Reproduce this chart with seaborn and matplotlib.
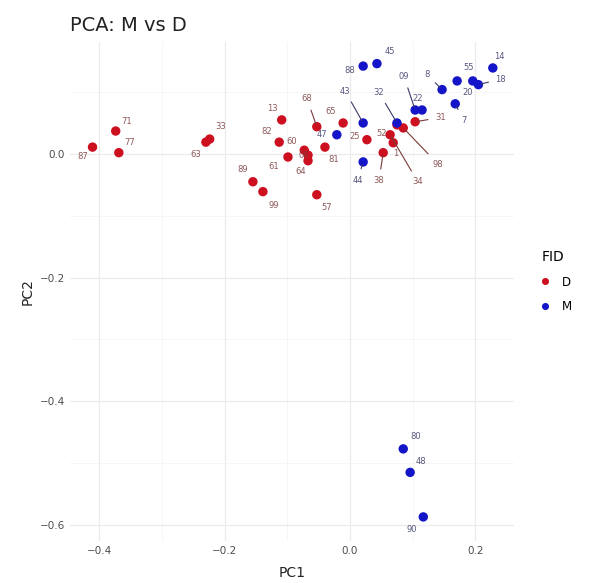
import matplotlib
matplotlib.use("Agg")
import matplotlib.pyplot as plt
from matplotlib.ticker import MultipleLocator
import seaborn as sns
import pandas as pd

# ---------------- data ----------------
d_labels = ["87", "71", "77", "63", "33", "13", "82", "61", "60", "06", "64", "68",
            "81", "65", "57", "89", "99", "25", "38", "1", "52", "98", "31", "34"]
d_pc1 = [-0.411, -0.374, -0.369, -0.230, -0.224, -0.109, -0.113, -0.099, -0.073, -0.067,
         -0.067, -0.053, -0.040, -0.011, -0.053, -0.155, -0.139, 0.027, 0.053, 0.069,
         0.075, 0.085, 0.104, 0.064]
d_pc2 = [0.011, 0.037, 0.002, 0.019, 0.024, 0.055, 0.019, -0.005, 0.006, -0.002,
         -0.011, 0.044, 0.011, 0.050, -0.066, -0.045, -0.061, 0.023, 0.002, 0.018,
         0.047, 0.042, 0.052, 0.031]

m_labels = ["88", "45", "47", "43", "44", "32", "09", "22", "8", "7", "55", "20",
            "14", "18", "80", "48", "90"]
m_pc1 = [0.021, 0.043, -0.021, 0.021, 0.021, 0.075, 0.104, 0.115, 0.147, 0.168, 0.171,
         0.196, 0.228, 0.205, 0.085, 0.096, 0.117]
m_pc2 = [0.142, 0.146, 0.031, 0.050, -0.013, 0.050, 0.071, 0.071, 0.104, 0.081, 0.118,
         0.118, 0.139, 0.112, -0.477, -0.515, -0.587]

groups = ["D", "M"]
title = "PCA: M vs D"

df = pd.DataFrame({
    "PC1": d_pc1 + m_pc1,
    "PC2": d_pc2 + m_pc2,
    "FID": ["D"] * len(d_pc1) + ["M"] * len(m_pc1),
    "label": d_labels + m_labels,
})

# ---------------- label placement (offsets in points) ----------------
label_offset = {
    "87": (-7, -7), "71": (8, 7), "77": (8, 7), "63": (-7, -9), "33": (8, 9),
    "13": (-7, 8), "82": (-9, 8), "61": (-10, -7), "60": (-9, 6), "06": (-3, 0),
    "64": (-5, -8), "68": (-7, 20), "81": (6, -9), "65": (-9, 8), "57": (7, -9),
    "89": (-7, 9), "99": (8, -10), "25": (-9, 2), "38": (-3, -20), "1": (2, -8),
    "52": (-11, -6), "98": (25, -26), "31": (18, 3), "34": (20, -34),
    "88": (-10, -3), "45": (9, 9), "47": (-11, 0), "43": (-13, 23), "44": (-4, -13),
    "32": (-13, 22), "09": (-8, 24), "22": (-3, 8), "8": (-11, 11), "7": (6, -12),
    "55": (8, 10), "20": (-4, -8), "14": (5, 8), "18": (16, 4),
    "80": (9, 9), "48": (8, 8), "90": (-8, -9),
}

palette = {"D": "#CD1020", "M": "#1414C8"}
text_col = {"D": "#7A3A3A", "M": "#3A3A6A"}

fig = plt.figure(figsize=(5.93, 5.83), dpi=100)
ax = fig.add_axes([0.118, 0.072, 0.749, 0.856])

sns.scatterplot(data=df, x="PC1", y="PC2", hue="FID", hue_order=groups,
                palette=palette, s=46, edgecolor="none", ax=ax, zorder=3)

for _, r in df.iterrows():
    dx, dy = label_offset.get(r["label"], (6, 6))
    far = (dx * dx + dy * dy) ** 0.5 > 13
    ax.annotate(r["label"], (r["PC1"], r["PC2"]), xytext=(dx, dy),
                textcoords="offset points", ha="center", va="center",
                fontsize=6, color=text_col[r["FID"]], alpha=0.85, zorder=4,
                arrowprops=dict(arrowstyle="-", color=text_col[r["FID"]], lw=0.8,
                                shrinkA=3, shrinkB=2) if far else None)

ax.set_xlim(-0.447, 0.262)
ax.set_ylim(-0.626, 0.181)
ax.xaxis.set_major_locator(MultipleLocator(0.2))
ax.xaxis.set_minor_locator(MultipleLocator(0.1))
ax.yaxis.set_major_locator(MultipleLocator(0.2))
ax.yaxis.set_minor_locator(MultipleLocator(0.1))
ax.grid(which="major", color="#EBEBEB", lw=0.9, zorder=0)
ax.grid(which="minor", color="#F3F3F3", lw=0.5, zorder=0)
ax.set_axisbelow(True)
for s in ax.spines.values():
    s.set_visible(False)
ax.tick_params(which="both", length=0, labelsize=7.5, labelcolor="#4D4D4D")
ax.set_xlabel("PC1", fontsize=10, color="#222222", labelpad=7)
ax.set_ylabel("PC2", fontsize=10, color="#222222", labelpad=4)
ax.set_title(title, loc="left", fontsize=14, color="#222222", pad=8)

sns.move_legend(ax, "center left", bbox_to_anchor=(1.02, 0.52), frameon=False,
                title="FID", fontsize=8.5, title_fontsize=10, markerscale=0.75,
                handletextpad=0.4, labelspacing=1.0)

fig.savefig("out.png", dpi=100)
